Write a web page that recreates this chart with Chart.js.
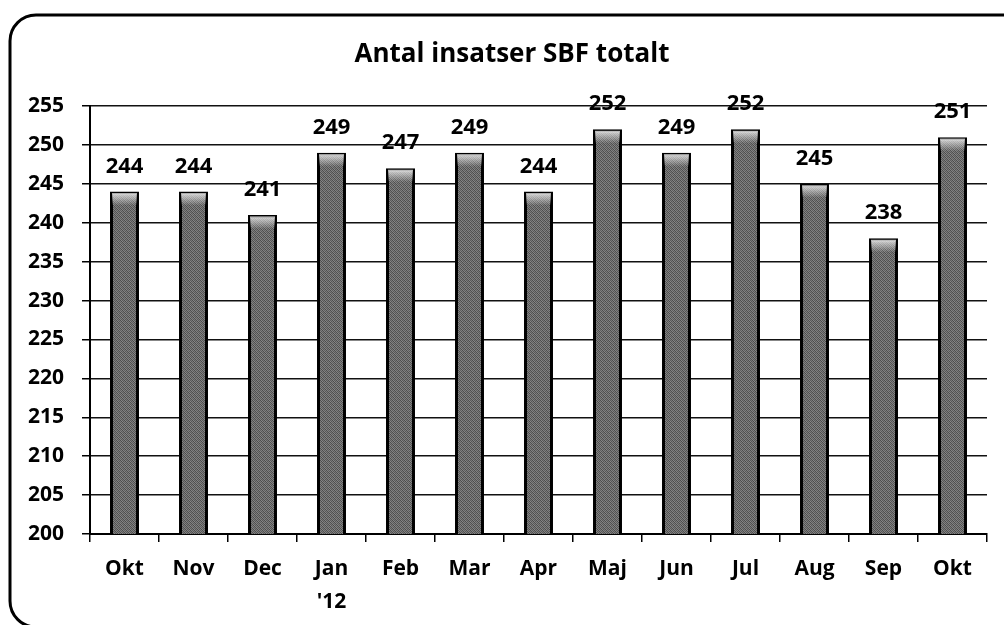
<!DOCTYPE html>
<html>
<head>
<meta charset="utf-8">
<script src="https://cdn.jsdelivr.net/npm/chart.js@4/dist/chart.umd.min.js"></script>
<style>
  html, body { margin: 0; padding: 0; background: #fff; }
  #wrap { width: 1004px; height: 625px; position: relative; }
</style>
</head>
<body>
<div id="wrap"><canvas id="c" width="1004" height="625"></canvas></div>
<script>
const chartTitle = 'Antal insatser SBF totalt';
const categories = ['Okt', 'Nov', 'Dec', ['Jan', "'12"], 'Feb', 'Mar', 'Apr', 'Maj', 'Jun', 'Jul', 'Aug', 'Sep', 'Okt'];
const values = [244, 244, 241, 249, 247, 249, 244, 252, 249, 252, 245, 238, 251];
const yMin = 200;
const yMax = 255;
const yStep = 5;

const FONT = "'Open Sans', 'DejaVu Sans', sans-serif";

// stipple pattern for the bar fill
function makePattern() {
  const p = document.createElement('canvas');
  p.width = 4; p.height = 4;
  const g = p.getContext('2d');
  const shades = [
    ['#4e4e4e', '#858585', '#5a5a5a', '#787878'],
    ['#7c7c7c', '#4a4a4a', '#888888', '#555555'],
    ['#5f5f5f', '#808080', '#4d4d4d', '#828282'],
    ['#848484', '#575757', '#7a7a7a', '#505050']
  ];
  for (let y = 0; y < 4; y++) for (let x = 0; x < 4; x++) {
    g.fillStyle = shades[y][x];
    g.fillRect(x, y, 1, 1);
  }
  return g.createPattern(p, 'repeat');
}

const ctx = document.getElementById('c').getContext('2d');
const barPattern = makePattern();

const framePlugin = {
  id: 'frame',
  beforeDraw(chart) {
    const c = chart.ctx;
    c.save();
    c.fillStyle = '#fff';
    c.fillRect(0, 0, chart.width, chart.height);
    c.strokeStyle = '#000';
    c.lineWidth = 3;
    const x = 10, y = 15, w = 1030, h = 612, r = 26;
    c.beginPath();
    c.moveTo(x + r, y);
    c.lineTo(x + w, y);
    c.lineTo(x + w, y + h);
    c.lineTo(x + r, y + h);
    c.arcTo(x, y + h, x, y + h - r, r);
    c.lineTo(x, y + r);
    c.arcTo(x, y, x + r, y, r);
    c.closePath();
    c.stroke();
    // title
    c.fillStyle = '#000';
    c.font = 'bold 26px ' + FONT;
    c.textAlign = 'center';
    c.textBaseline = 'alphabetic';
    c.fillText(chartTitle, 512, 62);
    c.restore();
  }
};

const barDecorPlugin = {
  id: 'barDecor',
  afterDatasetsDraw(chart) {
    const c = chart.ctx;
    const meta = chart.getDatasetMeta(0);
    c.save();
    meta.data.forEach((bar, i) => {
      const half = bar.width / 2;
      const top = bar.y;
      const grad = c.createLinearGradient(0, top, 0, top + 14);
      grad.addColorStop(0, 'rgba(235,235,235,0.95)');
      grad.addColorStop(1, 'rgba(235,235,235,0)');
      c.fillStyle = grad;
      c.fillRect(bar.x - half + 2, top + 1.5, bar.width - 4, 14);
      // value label
      c.fillStyle = '#000';
      c.font = 'bold 22px ' + FONT;
      c.textAlign = 'center';
      c.textBaseline = 'alphabetic';
      c.fillText(String(values[i]), bar.x, top - 19);
    });
    c.restore();
  }
};

new Chart(ctx, {
  type: 'bar',
  data: {
    labels: categories,
    datasets: [{
      data: values,
      backgroundColor: barPattern,
      borderColor: '#000',
      borderWidth: 3,
      borderSkipped: false,
      barPercentage: 0.42,
      categoryPercentage: 1.0
    }]
  },
  options: {
    responsive: false,
    animation: false,
    devicePixelRatio: 1,
    layout: { padding: { left: 10, right: 17, top: 106, bottom: 5 } },
    plugins: {
      legend: { display: false },
      tooltip: { enabled: false },
      title: { display: false }
    },
    scales: {
      x: {
        grid: { display: true, offset: true, drawOnChartArea: false, drawTicks: true, tickLength: 8, color: '#000', lineWidth: 1.5 },
        border: { display: true, color: '#000', width: 2 },
        ticks: {
          color: '#000',
          padding: 11,
          maxRotation: 0,
          autoSkip: false,
          font: { family: FONT, size: 21, weight: 'bold', lineHeight: 1.55 }
        },
        afterFit(scale) { scale.height = 86; }
      },
      y: {
        min: yMin,
        max: yMax,
        grid: { color: '#111', lineWidth: 1.5, drawTicks: true, tickLength: 8, tickColor: '#000' },
        border: { display: true, color: '#000', width: 2 },
        ticks: {
          stepSize: yStep,
          color: '#000',
          padding: 18,
          font: { family: FONT, size: 21, weight: 'bold' }
        },
        afterFit(scale) { scale.width = 80; }
      }
    }
  },
  plugins: [framePlugin, barDecorPlugin]
});
</script>
</body>
</html>
